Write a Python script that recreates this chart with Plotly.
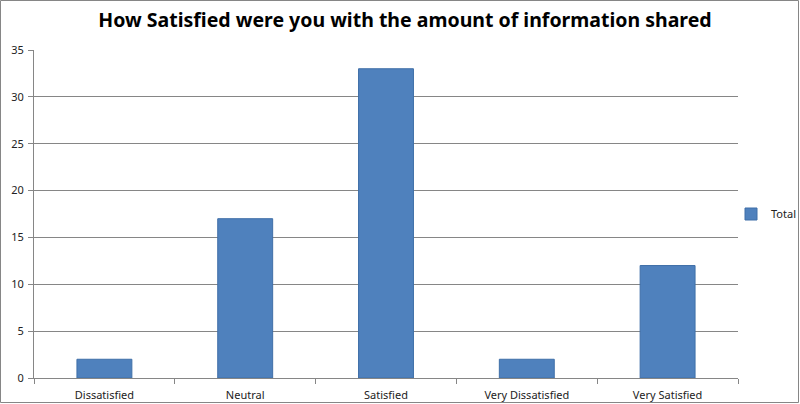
import plotly.graph_objects as go

categories = ['Dissatisfied', 'Neutral', 'Satisfied', 'Very Dissatisfied', 'Very Satisfied']
totals = [2, 17, 33, 2, 12]
y_ticks = [0, 5, 10, 15, 20, 25, 30, 35]

W, H = 800, 404
ml, mr, mt, mb = 34, 62, 50, 26
pw = W - ml - mr
ph = H - mt - mb

fig = go.Figure()
fig.add_trace(go.Bar(
    x=categories, y=totals, name='Total',
    marker=dict(color='#4F81BD', line=dict(color='#3F6FA8', width=1)),
    width=0.39,
))

# outer chart frame
fig.add_shape(type='rect', xref='paper', yref='paper',
              x0=-(ml - 0.5) / pw, x1=1 + (mr - 1.5) / pw,
              y0=-(mb - 1.5) / ph, y1=1 + (mt - 0.5) / ph,
              line=dict(color='#868686', width=1), layer='below')

fig.update_layout(
    width=W, height=H,
    margin=dict(l=ml, r=mr, t=mt, b=mb, autoexpand=False),
    paper_bgcolor='white', plot_bgcolor='white',
    font=dict(family='Noto Sans', size=11, color='#222222'),
    title=dict(text='<b>How Satisfied were you with the amount of information shared</b>',
               xref='paper', x=(405 - ml) / pw, xanchor='center',
               yref='container', y=1 - 13 / H, yanchor='top',
               font=dict(family='Noto Sans', size=19.5, color='black')),
    showlegend=True,
    legend=dict(x=(731 - ml) / pw, y=0.5, xanchor='left', yanchor='middle',
                font=dict(size=11), itemwidth=30, bgcolor='rgba(0,0,0,0)'),
    bargap=0.61,
)
fig.update_xaxes(showline=True, linecolor='#868686', linewidth=1,
                 ticks='outside', tickcolor='#868686', ticklen=5,
                 tickson='boundaries', showgrid=False, automargin=False,
                 ticklabelstandoff=7)
fig.update_yaxes(range=[0, 35], tickvals=y_ticks, showline=True,
                 linecolor='#868686', linewidth=1, ticks='outside',
                 tickcolor='#868686', ticklen=5, gridcolor='#868686',
                 gridwidth=1, zeroline=False, automargin=False,
                 ticklabelstandoff=2)

fig.write_html('out.html', config={'displayModeBar': False},
               post_script="document.body.style.margin='0';")
